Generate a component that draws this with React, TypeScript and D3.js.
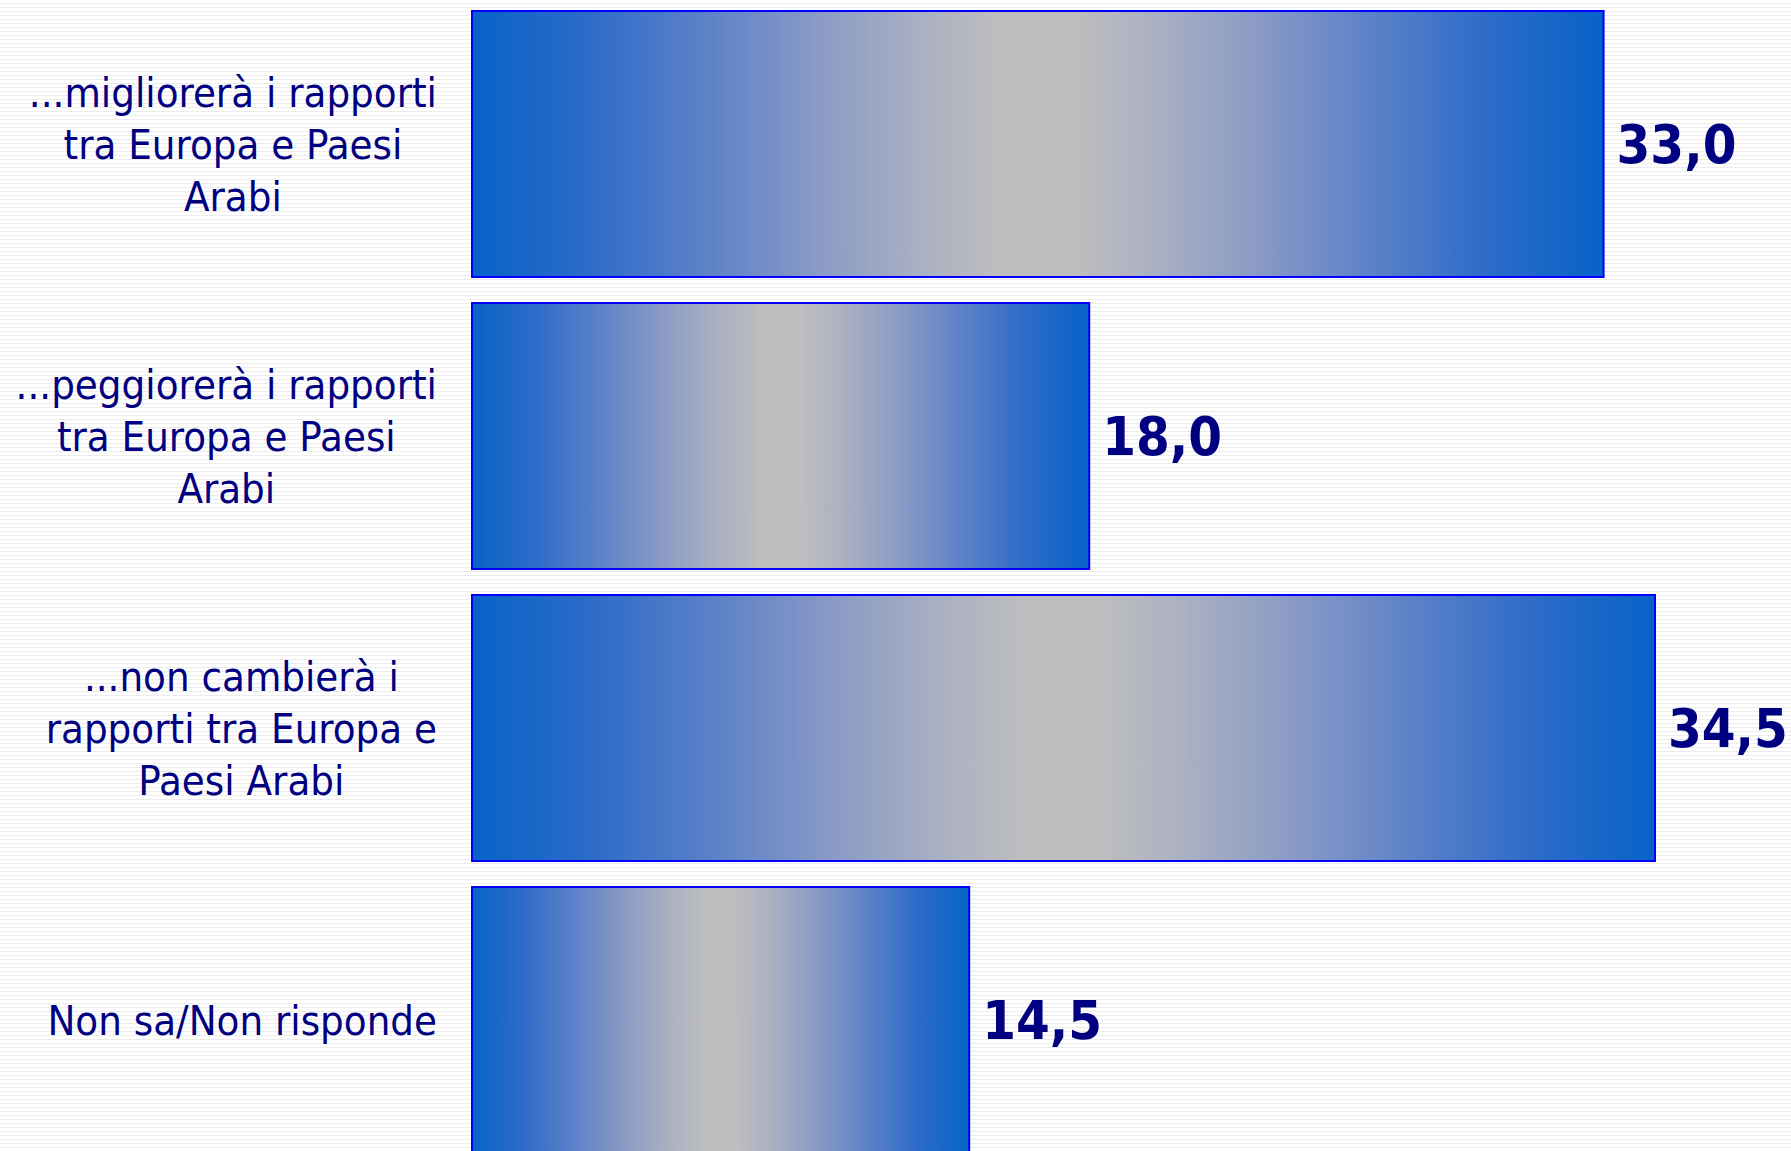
import React from "react";
import * as d3 from "d3";

const categories = ["migliora", "peggiora", "noncambia", "nonsa"];
const categoryLines: string[][] = [
  ["...migliorerà i rapporti", "tra Europa e Paesi", "Arabi"],
  ["...peggiorerà i rapporti", "tra Europa e Paesi", "Arabi"],
  ["...non cambierà i", "rapporti tra Europa e", "Paesi Arabi"],
  ["Non sa/Non risponde"],
];
const values = [33.0, 18.0, 34.5, 14.5];
const valueLabels = ["33,0", "18,0", "34,5", "14,5"];

const W = 1791;
const H = 1151;
const NAVY = "#000080";
const LABEL_FONT = "'DejaVu Sans Condensed', 'DejaVu Sans', sans-serif";
const LABEL_SIZE = 41.5;
const LINE_H = 52;
const VALUE_SIZE = 54;

function measure(text: string, font: string): number {
  const c = document.createElement("canvas");
  const ctx = c.getContext("2d")!;
  ctx.font = font;
  return ctx.measureText(text).width;
}

export default function App() {
  const x = d3.scaleLinear().domain([0, 34.5]).range([472, 1655]);
  const y = d3
    .scaleBand<string>()
    .domain(categories)
    .range([11, 1153])
    .paddingInner(0.089)
    .paddingOuter(0);

  const labelRight = 437;
  const gradStops: [number, string][] = [
    [0, "#0763C8"],
    [0.1, "#2C6BC9"],
    [0.2, "#5A80C8"],
    [0.3, "#8799C5"],
    [0.4, "#ACB1C2"],
    [0.47, "#BEBEBF"],
    [0.53, "#BEBEBF"],
    [0.6, "#ACB1C2"],
    [0.7, "#8799C5"],
    [0.8, "#5A80C8"],
    [0.9, "#2C6BC9"],
    [1, "#0763C8"],
  ];

  return (
    <svg
      width={W}
      height={H}
      style={{ position: "absolute", left: 0, top: 0, display: "block" }}
    >
      <defs>
        <pattern id="stripes" width="8" height="4" patternUnits="userSpaceOnUse">
          <rect width="8" height="4" fill="#ffffff" />
          <rect y="3" width="8" height="1" fill="#ececec" />
        </pattern>
        <linearGradient id="barGrad" x1="0" x2="1" y1="0" y2="0">
          {gradStops.map(([o, c], i) => (
            <stop key={i} offset={o} stopColor={c} />
          ))}
        </linearGradient>
      </defs>
      <rect width={W} height={H} fill="url(#stripes)" />
      {categories.map((cat, i) => {
        const y0 = y(cat)!;
        const bw = y.bandwidth();
        const cy = y0 + bw / 2;
        const lines = categoryLines[i];
        const font = `${LABEL_SIZE}px ${LABEL_FONT}`;
        const maxW = Math.max(...lines.map((l) => measure(l, font)));
        const cx = labelRight - maxW / 2;
        const firstBase = cy - ((lines.length - 1) * LINE_H) / 2 + LABEL_SIZE * 0.36;
        return (
          <g key={cat}>
            <rect
              x={x(0)}
              y={y0}
              width={x(values[i]) - x(0)}
              height={bw}
              fill="url(#barGrad)"
              stroke="#0000ff"
              strokeWidth={2}
            />
            <text
              x={x(values[i]) + 13}
              y={cy}
              dy="0.36em"
              fill={NAVY}
              fontFamily={LABEL_FONT}
              fontWeight="bold"
              fontSize={VALUE_SIZE}
            >
              {valueLabels[i]}
            </text>
            <text
              fill={NAVY}
              fontFamily={LABEL_FONT}
              fontSize={LABEL_SIZE}
              textAnchor="middle"
            >
              {lines.map((l, j) => (
                <tspan key={j} x={cx} y={firstBase + j * LINE_H}>
                  {l}
                </tspan>
              ))}
            </text>
          </g>
        );
      })}
    </svg>
  );
}
